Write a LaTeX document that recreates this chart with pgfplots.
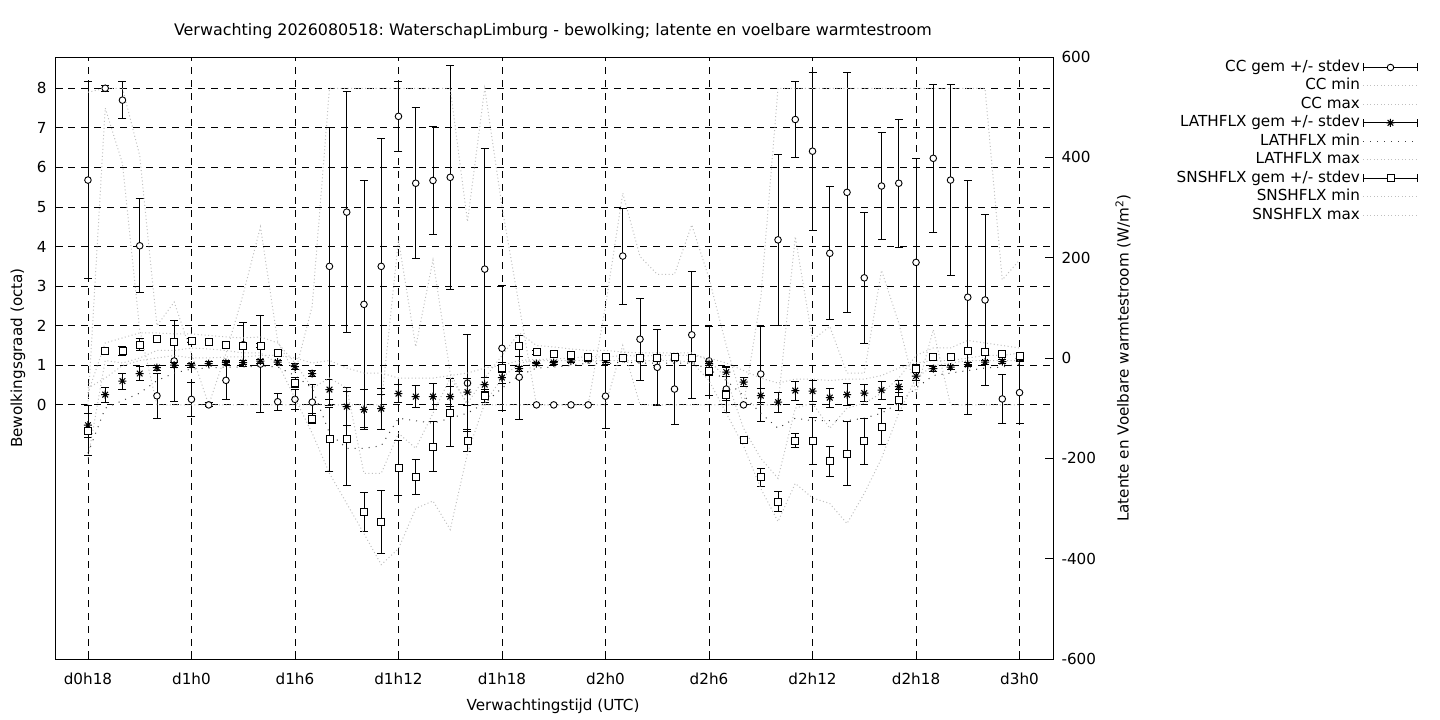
\documentclass[border=0pt]{standalone}
\usepackage{fontspec}
\setmainfont{DejaVu Sans}
\usepackage{pgfplots}
\pgfplotsset{compat=1.18}
\usepackage{pgfplotstable}
\frenchspacing

\pgfdeclareplotmark{gpstar}{%
 \pgfpathmoveto{\pgfqpoint{-\pgfplotmarksize}{0pt}}\pgfpathlineto{\pgfqpoint{\pgfplotmarksize}{0pt}}%
 \pgfpathmoveto{\pgfqpoint{0pt}{-\pgfplotmarksize}}\pgfpathlineto{\pgfqpoint{0pt}{\pgfplotmarksize}}%
 \pgfpathmoveto{\pgfqpoint{-.707\pgfplotmarksize}{-.707\pgfplotmarksize}}\pgfpathlineto{\pgfqpoint{.707\pgfplotmarksize}{.707\pgfplotmarksize}}%
 \pgfpathmoveto{\pgfqpoint{-.707\pgfplotmarksize}{.707\pgfplotmarksize}}\pgfpathlineto{\pgfqpoint{.707\pgfplotmarksize}{-.707\pgfplotmarksize}}%
 \pgfusepathqstroke}

\pgfplotstableread{
h cc ccsd ccmin ccmax lat latsd latmin latmax sns snssd snsmin snsmax
18 5.68 2.48 0 7.9 -134 24 -190 -60 -145 50 -200 -70
19 8.00 0.08 7.5 8 -73 15 -100 -40 14 4 -5 30
20 7.70 0.47 6.1 8 -46 16 -85 -15 15 9 -10 40
21 4.02 1.19 1.9 6.3 -31 14 -70 -5 27 12 0 50
22 0.23 0.56 0 2.0 -19 5 -45 0 37 4 15 50
23 1.11 1.02 0 2.6 -14 5 -30 5 32 5 15 48
24 0.14 0.42 0 1.3 -14 4 -22 0 34 4 20 48
25 0.00 0.05 0 0 -11 4 -20 0 31 4 18 45
26 0.62 0.47 0 1.3 -9 4 -18 2 27 4 15 42
27 1.52 0.56 0 2.8 -9 4 -18 2 25 4 10 40
28 1.03 1.22 0 4.5 -6 4 -16 5 25 4 10 42
29 0.08 0.22 0 1.6 -8 4 -18 5 11 5 -10 30
30 0.14 0.25 0 0.8 -17 6 -35 0 -49 10 -80 -10
31 0.07 0.45 0 2.5 -31 6 -60 -10 -121 10 -150 -60
32 3.50 3.52 0 8 -63 20 -150 -5 -162 64 -230 -40
33 4.87 3.04 0 8 -97 38 -180 -20 -161 94 -290 -60
34 2.54 3.12 0 8 -103 40 -180 -30 -307 38 -350 -230
35 3.50 3.23 0 8 -101 41 -175 -30 -327 63 -412 -230
36 7.29 0.88 4.17 8 -71 18 -120 -40 -219 54 -380 -150
37 5.60 1.91 1.47 8 -77 22 -125 -40 -237 34 -300 -180
38 5.67 1.36 3.66 8 -77 26 -130 -40 -177 50 -285 -110
39 5.75 2.83 0.8 8 -77 20 -120 -35 -109 68 -342 -40
40 0.55 1.22 0 4.63 -68 27 -110 -30 -165 22 -190 -90
41 3.43 3.05 0 8 -53 14 -90 -20 -75 13 -90 -40
42 1.43 1.58 0 5.0 -39 11 -60 -15 -19 10 -40 5
43 0.70 1.06 0 2.5 -21 5 -35 -5 24 20 -10 50
44 0 0 0 0 -11 3 -20 -3 12 4 -5 25
45 0 0 0 0 -9 3 -18 -2 9 4 -5 22
46 0 0 0 0 -6 3 -15 0 6 3 -5 18
47 0 0 0 0 -3 3 -10 3 3 3 -5 15
48 0.22 0.81 0 2.5 -5 3 -12 2 3 3 -5 15
49 3.76 1.21 1.5 5.35 -1 3 -8 5 1 3 -5 12
50 1.66 1.04 0 3.75 -3 3 -10 4 0 3 -5 10
51 0.95 0.96 0 3.3 -2 3 -10 5 1 3 -5 10
52 0.40 0.89 0 3.3 -2 3 -10 5 2 3 -5 10
53 1.77 1.60 0 4.55 -3 3 -10 5 0 3 -8 10
54 1.11 0.87 0 3.2 -11 4 -22 0 -26 8 -45 -5
55 0.40 0.58 0 1.5 -28 9 -45 -10 -74 10 -110 -40
56 0 0 0 0 -48 9 -75 -25 -163 6 -175 -140
57 0.78 1.20 0 2.7 -75 14 -110 -40 -238 18 -260 -200
58 4.17 2.16 0 8 -88 20 -140 -50 -286 20 -326 -240
59 7.21 0.96 4.25 8 -65 19 -120 -42 -165 14 -250 -100
60 6.41 2.0 1.64 8 -66 21 -125 -42 -165 47 -279 -90
61 3.83 1.68 1.98 8 -79 19 -125 -45 -206 30 -290 -140
62 5.37 3.03 0.8 8 -73 22 -125 -42 -191 64 -330 -100
63 3.21 1.65 0.8 8 -70 17 -120 -42 -166 46 -270 -90
64 5.53 1.36 3.4 8 -64 18 -110 -35 -137 36 -200 -70
65 5.60 1.61 2.07 8 -57 12 -90 -20 -83 21 -110 -40
66 3.60 2.63 0.3 8 -36 8 -60 -10 -21 8 -40 5
67 6.23 1.87 1.9 8 -21 5 -35 -5 2 5 -15 20
68 5.68 2.41 0 8 -18 4 -30 -5 2 5 -10 20
69 2.72 2.96 0 8 -13 4 -25 0 14 7 -5 35
70 2.65 2.15 0 8 -8 4 -20 5 12 5 -5 30
71 0.15 0.62 0 3.16 -7 4 -18 5 9 4 -5 25
72 0.31 0.79 0 3.66 -1 4 -12 10 5 4 -5 20
}\data

\pgfplotsset{
  base/.style={
    scale only axis, width=998pt, height=602pt,
    at={(55pt,61pt)}, anchor=south west,
    xmin=16.09, xmax=73.94,
    tick align=inside, major tick length=8pt,
    every tick/.style={black, line width=0.9pt},
    axis line style={line width=0.9pt},
    /pgf/number format/assume math mode=true,
  },
  meanstyle/.style={only marks, line width=0.9pt,
    error bars/y dir=both, error bars/y explicit,
    error bars/error bar style={line width=0.9pt, black},
    error bars/error mark options={rotate=90, mark size=4pt, line width=0.9pt, black}},
  errleg/.style={legend image code/.code={
    \draw[black, line width=0.9pt] (0pt,0pt) -- (54pt,0pt);
    \draw[black, line width=0.9pt] (0pt,-4pt) -- (0pt,4pt);
    \draw[black, line width=0.9pt] (54pt,-4pt) -- (54pt,4pt);
    \draw[##1] plot coordinates {(27pt,0pt)};}},
  lineleg/.style={legend image code/.code={\draw[##1] (0pt,0pt) -- (54pt,0pt);}},
  mm/.style={gray!50, line width=1pt, dash pattern=on 1pt off 2.5pt},
  latmin/.style={black!75, line width=1pt, dash pattern=on 1pt off 6pt},
}

\begin{document}
\begin{tikzpicture}[font=\fontsize{15.2}{18}\selectfont]
\useasboundingbox (0,0) rectangle (1440pt,720pt);

\begin{axis}[base,
  ymin=-6.42, ymax=8.79,
  ytick={0,1,...,8}, ytick pos=left,
  xtick={18,24,...,72},
  xticklabels={d0h18,d1h0,d1h6,d1h12,d1h18,d2h0,d2h6,d2h12,d2h18,d3h0},
  xtick pos=bottom,
  xticklabel style={yshift=-10pt},
  yticklabel style={xshift=-5pt},
  grid=major,
  major grid style={black, line width=0.9pt, dash pattern=on 7pt off 6pt},
  title={Verwachting 2026080518: WaterschapLimburg - bewolking; latente en voelbare warmtestroom},
  title style={at={(axis description cs:0.499,1.0332)}, anchor=center, font=\fontsize{15.9}{18}\selectfont},
  xlabel={Verwachtingstijd (UTC)},
  xlabel style={at={(axis description cs:0.499,-0.078)}, anchor=center},
  ylabel={Bewolkingsgraad (octa)},
  ylabel style={at={(axis description cs:-0.0371,0.5)}, anchor=center},
  legend cell align=right,
  legend plot pos=right,
  legend style={at={(axis description cs:1.3657,0.995)}, anchor=north east,
    draw=none, fill=none, inner sep=0pt, outer sep=0pt,
    row sep=3.45pt, column sep=3pt,
    nodes={inner sep=0pt, text height=11.5pt, text depth=3.5pt}},
]
\addplot[meanstyle, mark=*, mark size=3.3pt, mark options={fill=white, draw=black, line width=0.9pt}, errleg]
  table[x=h, y=cc, y error=ccsd] {\data};
\addlegendentry{CC gem +/- stdev}
\addplot[mm, lineleg] table[x=h, y=ccmin] {\data};
\addlegendentry{CC min}
\addplot[mm, lineleg] table[x=h, y=ccmax] {\data};
\addlegendentry{CC max}
\addlegendimage{only marks, mark=gpstar, mark size=4pt, mark options={black, line width=1pt}, errleg}
\addlegendentry{LATHFLX gem +/- stdev}
\addlegendimage{latmin, lineleg}
\addlegendentry{LATHFLX min}
\addlegendimage{mm, lineleg}
\addlegendentry{LATHFLX max}
\addlegendimage{only marks, mark=square*, mark size=3.5pt, mark options={fill=white, draw=black, line width=0.9pt}, errleg}
\addlegendentry{SNSHFLX gem +/- stdev}
\addlegendimage{mm, lineleg}
\addlegendentry{SNSHFLX min}
\addlegendimage{mm, lineleg}
\addlegendentry{SNSHFLX max}
\end{axis}

\begin{axis}[base,
  ymin=-600, ymax=600,
  axis y line*=right, axis x line=none,
  ytick={-600,-400,...,600},
  yticklabels={-600,-400,-200,0,200,400,600},
  yticklabel style={xshift=5pt},
  ylabel={Latente en Voelbare warmtestroom (W/m\textsuperscript{2})},
  ylabel style={at={(axis description cs:1.0701,0.5)}, anchor=center},
]
\addplot[meanstyle, mark=gpstar, mark size=4pt, mark options={black, line width=1pt}]
  table[x=h, y=lat, y error=latsd] {\data};
\addplot[latmin] table[x=h, y=latmin] {\data};
\addplot[mm] table[x=h, y=latmax] {\data};
\addplot[meanstyle, mark=square*, mark size=3.5pt, mark options={fill=white, draw=black, line width=0.9pt}]
  table[x=h, y=sns, y error=snssd] {\data};
\addplot[mm] table[x=h, y=snsmin] {\data};
\addplot[mm] table[x=h, y=snsmax] {\data};
\end{axis}
\end{tikzpicture}
\end{document}
